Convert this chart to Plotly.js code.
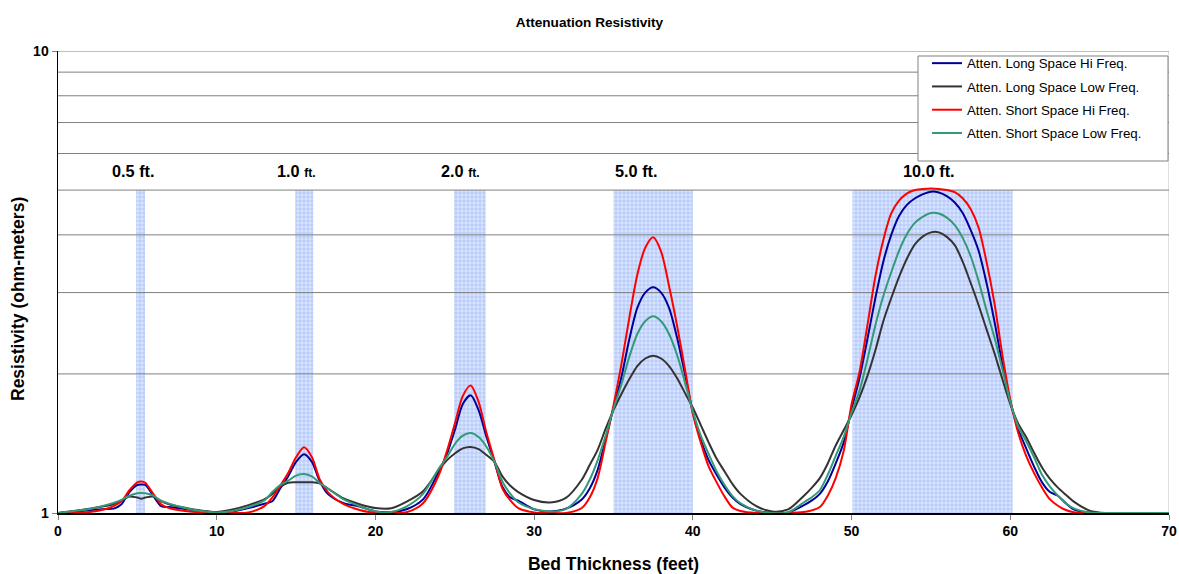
<!DOCTYPE html>
<html><head><meta charset="utf-8">
<script src="https://cdn.plot.ly/plotly-3.0.1.min.js"></script>
<style>html,body{margin:0;padding:0;background:#fff}#chart{width:1179px;height:574px}</style>
</head><body><div id="chart"></div>
<script>
// ---- data ----
const bedThickness = [0,1,2,3,3.5,4,4.5,5,5.25,5.5,6,6.5,7,8,9,10,11,12,13,13.5,14,14.5,15,15.5,16,16.5,17,18,19,20,21,22,23,24,24.5,25,25.5,26,26.5,27,27.5,28,28.5,29,30,31,32,33,33.5,34,34.5,35,35.5,36,36.5,37,37.5,38,38.5,39,39.5,40,40.5,41,41.5,42,42.5,43,44,45,46,47,47.5,48,48.5,49,49.5,50,50.5,51,51.5,52,52.5,53,53.5,54,54.5,55,55.5,56,56.5,57,57.5,58,58.5,59,59.5,60,60.5,61,61.5,62,62.5,63,63.5,64,65,66,68,70];

const longLowFreq = [1.0,1.01,1.022,1.035,1.045,1.065,1.086,1.08,1.074,1.08,1.085,1.06,1.045,1.027,1.013,1.005,1.018,1.04,1.07,1.10,1.14,1.163,1.165,1.165,1.165,1.158,1.13,1.075,1.045,1.025,1.024,1.06,1.115,1.24,1.30,1.345,1.38,1.39,1.375,1.335,1.29,1.20,1.145,1.11,1.067,1.054,1.078,1.18,1.27,1.37,1.52,1.67,1.81,1.95,2.08,2.16,2.19,2.16,2.08,1.96,1.82,1.69,1.55,1.42,1.31,1.23,1.155,1.10,1.035,1.008,1.018,1.09,1.135,1.19,1.28,1.40,1.51,1.63,1.78,1.98,2.25,2.6,2.92,3.25,3.56,3.82,3.97,4.05,4.05,3.96,3.8,3.5,3.15,2.82,2.5,2.22,1.95,1.72,1.56,1.46,1.35,1.255,1.185,1.135,1.095,1.058,1.012,1.0,1.0,1.0];

const shortLowFreq = [1.0,1.01,1.02,1.04,1.052,1.068,1.09,1.103,1.105,1.103,1.09,1.063,1.048,1.025,1.01,1.003,1.01,1.03,1.065,1.11,1.15,1.175,1.205,1.214,1.2,1.16,1.13,1.07,1.035,1.008,1.005,1.035,1.1,1.25,1.32,1.41,1.47,1.49,1.46,1.39,1.29,1.17,1.10,1.055,1.02,1.008,1.02,1.10,1.18,1.30,1.47,1.68,1.90,2.18,2.44,2.6,2.665,2.6,2.44,2.2,1.92,1.66,1.47,1.34,1.23,1.15,1.088,1.05,1.012,1.0,1.003,1.055,1.082,1.12,1.21,1.33,1.46,1.65,1.84,2.15,2.55,2.95,3.32,3.7,4.02,4.25,4.38,4.46,4.45,4.36,4.2,3.94,3.6,3.18,2.75,2.4,2.05,1.74,1.54,1.43,1.32,1.21,1.14,1.09,1.05,1.023,1.002,1.0,1.0,1.0];

const longHiFreq = [1.0,1.005,1.015,1.02,1.022,1.045,1.11,1.15,1.152,1.15,1.09,1.035,1.03,1.02,1.01,1.003,1.008,1.025,1.047,1.06,1.13,1.2,1.29,1.341,1.29,1.17,1.10,1.05,1.033,1.008,1.005,1.02,1.07,1.23,1.34,1.51,1.72,1.798,1.67,1.46,1.29,1.14,1.08,1.063,1.018,1.008,1.022,1.07,1.13,1.24,1.44,1.69,1.97,2.38,2.78,3.0,3.08,3.0,2.78,2.4,2.0,1.65,1.44,1.30,1.21,1.135,1.08,1.045,1.012,1.0,1.003,1.04,1.065,1.10,1.17,1.28,1.42,1.68,1.96,2.38,2.92,3.5,4.0,4.4,4.65,4.8,4.9,4.96,4.94,4.85,4.7,4.46,4.1,3.7,3.15,2.6,2.1,1.74,1.52,1.38,1.26,1.165,1.11,1.09,1.05,1.018,1.002,1.0,1.0,1.0];

const shortHiFreq = [1.0,1.0,1.005,1.02,1.035,1.06,1.12,1.165,1.17,1.163,1.10,1.045,1.025,1.01,1.003,1.0,1.0,1.003,1.035,1.08,1.145,1.22,1.32,1.387,1.32,1.18,1.11,1.045,1.015,1.0,1.0,1.005,1.05,1.21,1.36,1.56,1.79,1.889,1.74,1.49,1.30,1.13,1.065,1.025,1.003,1.0,1.0,1.025,1.08,1.19,1.42,1.71,2.1,2.65,3.28,3.75,3.95,3.68,3.1,2.55,2.05,1.64,1.42,1.26,1.165,1.085,1.027,1.01,1.0,1.0,1.0,1.005,1.013,1.03,1.09,1.19,1.36,1.72,2.02,2.55,3.25,3.9,4.45,4.75,4.92,5.0,5.03,5.04,5.03,5.0,4.95,4.8,4.55,4.15,3.5,2.85,2.2,1.76,1.49,1.33,1.22,1.135,1.07,1.037,1.015,1.004,1.0,1.0,1.0,1.0];

const seriesNames = ['Atten. Long Space Hi Freq.','Atten. Long Space Low Freq.','Atten. Short Space Hi Freq.','Atten. Short Space Low Freq.'];
const seriesValues = [longHiFreq, longLowFreq, shortHiFreq, shortLowFreq];
const seriesColors = ['#000099','#333333','#ff0000','#339977'];

const bedStart = [4.92, 14.95, 24.95, 35.0, 50.05];
const bedEnd   = [5.48, 16.08, 26.95, 40.0, 60.15];
const bedShadeBase = 1;
const bedShadeTop = 5;
const bedLabelNum  = ['0.5','1.0','2.0','5.0','10.0'];
const bedLabelUnit = ['ft.','ft.','ft.','ft.','ft.'];
const bedUnitSmall = [false,true,true,false,false];
const xTicks = [0,10,20,30,40,50,60,70];
const xRange = [0,70];
const yGridValues = [2,3,4,5,6,7,8,9,10];

// ---- layout helpers ----
const FONT = 'Liberation Sans, Arial, Helvetica, sans-serif';
const labelX = [4.75, 15.0, 25.35, 36.45, 54.9];
const PW = 1179-58-10, PH = 462;

// bed shading as a bar trace (drawn in the bar layer, beneath all scatter lines)
const bedTrace = {
  type:'bar', showlegend:false, hoverinfo:'skip',
  x: bedStart.map((s,i)=>(s+bedEnd[i])/2),
  width: bedStart.map((s,i)=>bedEnd[i]-s),
  base: bedStart.map(()=>bedShadeBase),
  y: bedStart.map(()=>bedShadeTop-bedShadeBase),
  marker:{color:'#d3dffd', line:{width:0},
          pattern:{shape:'+', fgcolor:'#9ab4f6', bgcolor:'#d8e3fd', size:4, solidity:0.25}}
};

// horizontal grid lines as a scatter trace so they stay visible over the bed shading
const gx = [], gy = [];
yGridValues.forEach(v=>{ gx.push(xRange[0], xRange[1], null); gy.push(v, v, null); });
const gridTrace = {type:'scatter', mode:'lines', x:gx, y:gy, line:{color:'#808080', width:1},
  showlegend:false, hoverinfo:'skip', connectgaps:false};

const traces = [bedTrace, gridTrace].concat(seriesNames.map((n,i)=>({
  type:'scatter', mode:'lines', name:n,
  x: bedThickness, y: seriesValues[i],
  line:{color:seriesColors[i], width:2, shape:'spline', smoothing:0.8},
  legendgroup:'g'+i
})));

const shapes = [];
// right plot border
shapes.push({type:'line', xref:'x', yref:'paper', x0:70, x1:70, y0:0, y1:1, line:{color:'#c0c0c0', width:1}, layer:'below'});
// legend frame
shapes.push({type:'rect', xref:'paper', yref:'paper',
  x0:(918-58)/PW, x1:(1168-58)/PW, y0:(513-161)/PH, y1:(513-56)/PH,
  fillcolor:'#ffffff', line:{color:'#808080', width:1}, layer:'above'});

const annotations = bedLabelNum.map((t,i)=>({
  xref:'x', yref:'paper', x:labelX[i], y:(513-171)/PH, yanchor:'middle', showarrow:false,
  text: t + ' ' + (bedUnitSmall[i] ? '<span style="font-size:12px">'+bedLabelUnit[i]+'</span>' : bedLabelUnit[i]),
  font:{family:FONT, size:16.3, color:'#000', weight:700}
}));
// y-axis title
annotations.push({xref:'paper', yref:'paper', x:(18-58)/PW, y:(513-299)/PH, xanchor:'center', yanchor:'middle',
  showarrow:false, textangle:-90, text:'Resistivity (ohm-meters)',
  font:{family:FONT, size:17.5, color:'#000', weight:700}});

const layout = {
  width:1179, height:574,
  margin:{l:58, r:10, t:51, b:61},
  paper_bgcolor:'#ffffff', plot_bgcolor:'#ffffff',
  font:{family:FONT, color:'#000'},
  title:{text:'Attenuation Resistivity', font:{family:FONT, size:13.6, color:'#000', weight:700},
         x:0.5, xref:'container', y:1-22/574, yref:'container', yanchor:'middle'},
  xaxis:{range:xRange, tickmode:'array', tickvals:xTicks, ticks:'outside', ticklen:5, tickcolor:'#808080',
         showgrid:false, zeroline:false, showline:true, linecolor:'#000', linewidth:1.5,
         tickfont:{family:FONT, size:14, color:'#000', weight:700},
         title:{text:'Bed Thickness (feet)', font:{family:FONT, size:17.5, color:'#000', weight:700}, standoff:22}},
  yaxis:{type:'log', range:[0,1], tickmode:'array', tickvals:[1,10], ticktext:['1','10'],
         ticks:'outside', ticklen:5, tickcolor:'#808080',
         showgrid:false,
         zeroline:false, showline:true, linecolor:'#000', linewidth:1.5,
         tickfont:{family:FONT, size:14, color:'#000', weight:700}},
  showlegend:true,
  legend:{x:(927-58)/PW, y:(513-48)/PH, xanchor:'left', yanchor:'top', bgcolor:'rgba(0,0,0,0)', borderwidth:0,
          font:{family:FONT, size:13.3, color:'#000'}, traceorder:'grouped', tracegroupgap:3},
  shapes:shapes, annotations:annotations
};

Plotly.newPlot('chart', traces, layout, {displayModeBar:false, staticPlot:true});
</script>
</body></html>
